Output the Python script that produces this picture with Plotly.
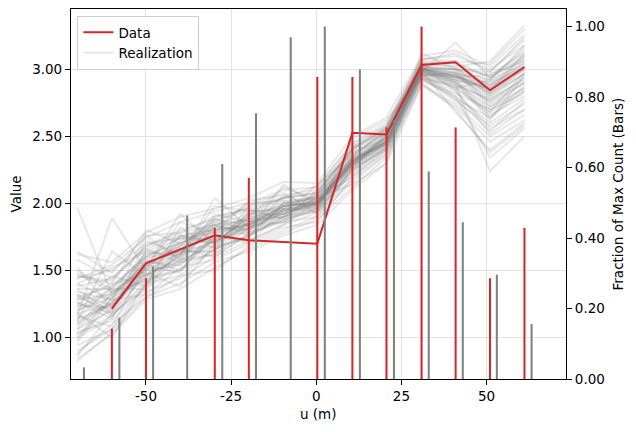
import plotly.graph_objects as go

# ---- data ----
u_grid = [-70.2, -60.0, -50.0, -40.0, -29.8, -19.8, -9.6, 0.3, 10.6, 20.6, 30.9, 40.9, 51.0, 61.1]
u_data = [-60.0, -50.0, -29.8, -19.8, 0.3, 10.6, 20.6, 30.9, 40.9, 51.0, 61.1]
data_values = [1.214, 1.552, 1.761, 1.724, 1.699, 2.527, 2.513, 3.032, 3.052, 2.843, 3.017]

realizations = [
    [1.20, 1.30, 1.56, 1.64, 1.77, 1.86, 1.95, 2.01, 2.31, 2.47, 3.00, 2.96, 2.82, 2.97],
    [1.02, 1.16, 1.42, 1.50, 1.66, 1.76, 1.88, 1.95, 2.22, 2.40, 2.95, 2.86, 2.68, 2.84],
    [1.38, 1.44, 1.68, 1.80, 1.88, 1.94, 2.04, 2.07, 2.40, 2.54, 3.06, 3.05, 2.94, 3.10],
    [0.90, 1.06, 1.34, 1.44, 1.60, 1.72, 1.84, 1.93, 2.18, 2.37, 2.92, 2.80, 2.60, 2.78],
    [1.50, 1.36, 1.62, 1.70, 1.80, 1.84, 1.98, 2.02, 2.34, 2.49, 3.02, 3.00, 2.88, 3.02],
    [1.10, 1.32, 1.50, 1.76, 1.70, 1.90, 1.92, 2.00, 2.28, 2.45, 2.98, 2.90, 2.72, 2.90],
    [1.26, 1.14, 1.66, 1.56, 1.86, 1.80, 2.06, 1.98, 2.33, 2.44, 3.01, 2.94, 2.96, 3.12],
    [0.84, 1.02, 1.28, 1.36, 1.52, 1.66, 1.78, 1.88, 2.12, 2.34, 2.89, 2.74, 2.50, 2.66],
    [1.44, 1.54, 1.74, 1.86, 1.94, 2.00, 2.10, 2.12, 2.44, 2.58, 3.08, 3.10, 3.00, 3.18],
    [1.14, 1.24, 1.44, 1.66, 1.68, 1.86, 1.90, 2.04, 2.29, 2.50, 2.99, 2.88, 2.78, 2.92],
    [1.30, 1.20, 1.58, 1.50, 1.74, 1.92, 1.98, 2.00, 2.32, 2.47, 3.00, 2.98, 2.72, 2.86],
    [0.98, 1.34, 1.52, 1.70, 1.82, 1.80, 1.96, 1.96, 2.26, 2.42, 2.96, 2.94, 2.90, 3.02],
    [1.64, 1.48, 1.76, 1.78, 1.90, 1.96, 2.04, 2.08, 2.42, 2.55, 3.05, 3.04, 2.94, 3.08],
    [1.18, 1.00, 1.40, 1.58, 1.62, 1.76, 1.90, 1.94, 2.24, 2.41, 2.94, 2.84, 2.56, 2.70],
    [1.06, 1.26, 1.48, 1.38, 1.70, 1.84, 1.98, 2.01, 2.30, 2.46, 2.99, 2.92, 2.86, 3.06],
    [1.46, 1.40, 1.80, 1.70, 1.84, 1.88, 2.00, 2.05, 2.38, 2.53, 3.04, 3.02, 2.80, 2.96],
    [0.88, 1.10, 1.30, 1.46, 1.50, 1.68, 1.80, 1.90, 2.16, 2.36, 2.90, 2.70, 2.38, 2.58],
    [1.28, 1.32, 1.54, 1.62, 1.92, 1.86, 1.92, 2.04, 2.35, 2.50, 3.01, 2.97, 2.92, 3.16],
    [1.12, 1.64, 1.46, 1.60, 1.72, 1.82, 1.96, 1.99, 2.29, 2.45, 2.98, 2.90, 2.76, 2.94],
    [1.40, 1.28, 1.64, 1.74, 1.78, 2.02, 2.06, 2.10, 2.41, 2.57, 3.07, 3.12, 2.98, 3.24],
    [1.00, 1.14, 1.50, 1.54, 1.74, 1.78, 1.86, 1.97, 2.27, 2.44, 2.96, 2.86, 2.66, 2.80],
    [1.22, 1.36, 1.36, 1.64, 1.64, 1.86, 1.94, 2.00, 2.32, 2.47, 3.00, 2.95, 2.82, 3.00],
    [1.58, 1.44, 1.66, 1.76, 1.80, 1.90, 2.12, 2.02, 2.31, 2.52, 3.00, 3.00, 2.96, 3.06],
    [0.94, 1.06, 1.40, 1.46, 1.66, 1.76, 1.90, 1.96, 2.25, 2.42, 2.96, 2.78, 2.54, 2.76],
    [1.32, 1.24, 1.52, 1.86, 1.78, 1.84, 1.98, 2.01, 2.33, 2.48, 3.01, 2.92, 2.86, 3.00],
    [1.14, 1.38, 1.60, 1.62, 1.98, 1.94, 1.96, 2.06, 2.36, 2.54, 3.02, 3.00, 2.74, 2.90],
    [1.26, 1.18, 1.46, 1.58, 1.68, 1.74, 2.00, 1.98, 2.28, 2.43, 2.97, 2.88, 2.24, 2.50],
    [1.44, 1.50, 1.70, 1.74, 1.86, 1.98, 2.04, 2.13, 2.45, 2.60, 3.08, 3.06, 3.04, 3.30],
    [1.06, 1.20, 1.54, 1.68, 1.74, 1.82, 1.92, 1.99, 2.31, 2.46, 2.99, 2.94, 2.80, 2.97],
    [1.20, 1.34, 1.42, 1.62, 1.82, 1.88, 1.96, 2.02, 2.32, 2.49, 3.00, 2.96, 2.84, 3.01],
    [1.97, 1.32, 1.56, 1.66, 1.76, 1.84, 1.94, 2.01, 2.30, 2.50, 3.00, 2.95, 2.78, 2.93],
    [1.16, 1.89, 1.50, 1.62, 1.72, 1.86, 1.98, 2.00, 2.31, 2.46, 2.99, 2.90, 2.70, 2.86],
    [1.34, 1.28, 1.76, 1.58, 1.88, 1.80, 2.14, 1.99, 2.29, 2.44, 2.98, 2.94, 2.88, 3.04],
    [1.24, 1.22, 1.52, 1.92, 1.70, 1.92, 1.92, 2.14, 2.36, 2.53, 3.03, 2.97, 2.90, 3.10],
    [1.10, 1.26, 1.46, 1.60, 2.04, 1.82, 1.90, 1.98, 2.29, 2.45, 2.98, 3.20, 2.94, 3.14],
    [1.36, 1.36, 1.58, 1.68, 1.78, 1.88, 2.00, 2.03, 2.34, 2.56, 3.02, 2.84, 2.52, 2.70],
    [1.04, 1.12, 1.38, 1.66, 1.60, 1.78, 1.88, 1.94, 2.48, 2.62, 2.94, 2.78, 2.64, 2.88],
    [1.30, 1.38, 1.60, 1.70, 1.82, 2.00, 2.02, 2.04, 2.14, 2.30, 3.12, 3.00, 2.92, 3.04],
    [1.18, 1.24, 1.48, 1.56, 1.72, 1.80, 1.94, 2.00, 2.31, 2.46, 2.99, 2.68, 2.40, 2.60],
    [1.46, 1.42, 1.68, 1.78, 1.84, 1.92, 2.04, 2.08, 2.40, 2.56, 3.04, 3.02, 3.06, 3.33],
    [0.82, 1.04, 1.30, 1.40, 1.56, 1.64, 1.76, 1.84, 2.10, 2.30, 2.88, 2.72, 2.46, 2.62],
    [1.62, 1.56, 1.78, 1.90, 1.96, 2.04, 2.16, 2.15, 2.50, 2.64, 3.10, 3.14, 3.02, 3.26],
    [1.08, 1.28, 1.32, 1.52, 1.58, 1.70, 1.82, 1.86, 2.20, 2.40, 2.92, 2.82, 2.70, 2.82],
    [1.36, 1.18, 1.72, 1.62, 1.90, 1.96, 1.88, 2.10, 2.38, 2.48, 3.02, 2.90, 2.62, 2.96],
    [1.24, 1.46, 1.38, 1.82, 1.66, 1.98, 2.08, 1.92, 2.26, 2.52, 2.96, 2.96, 2.84, 3.12],
    [0.96, 1.30, 1.44, 1.50, 1.76, 1.72, 1.84, 2.02, 2.20, 2.38, 2.94, 2.76, 2.58, 2.74],
    [1.52, 1.22, 1.60, 1.74, 1.70, 1.90, 2.02, 1.96, 2.42, 2.58, 3.04, 3.06, 2.82, 3.00],
    [1.16, 1.08, 1.54, 1.48, 1.84, 1.78, 1.98, 2.06, 2.34, 2.44, 2.98, 2.86, 2.92, 3.18],
    [1.40, 1.52, 1.64, 1.60, 1.80, 1.84, 1.92, 2.00, 2.28, 2.50, 3.00, 2.92, 2.64, 2.84],
    [0.86, 1.18, 1.36, 1.56, 1.62, 1.82, 1.86, 1.90, 2.24, 2.42, 2.95, 2.98, 2.88, 3.08],
    [1.28, 1.40, 1.46, 1.72, 1.84, 1.76, 2.00, 2.04, 2.30, 2.46, 2.97, 2.80, 2.34, 2.56],
    [1.12, 1.26, 1.62, 1.64, 1.64, 1.94, 1.94, 1.98, 2.36, 2.52, 3.01, 3.00, 2.98, 3.22],
    [1.48, 1.34, 1.50, 1.68, 1.88, 1.84, 1.86, 2.06, 2.32, 2.46, 2.99, 2.92, 2.76, 2.90],
    [1.02, 1.22, 1.56, 1.54, 1.76, 1.70, 1.96, 1.94, 2.26, 2.40, 2.93, 2.88, 2.68, 2.98],
    [1.32, 1.16, 1.40, 1.76, 1.72, 1.88, 1.90, 2.08, 2.40, 2.56, 3.03, 2.94, 2.86, 3.02],
]

# bar fractions (right axis)
data_bar_frac = [0.143, 0.286, 0.429, 0.571, 0.857, 0.857, 0.714, 1.0, 0.714, 0.286, 0.429]
real_bar_x = [-68.2, -57.8, -47.9, -37.9, -27.6, -17.7, -7.5, 2.5, 12.8, 22.8, 33.0, 43.0, 53.0, 63.2]
real_bar_frac = [0.033, 0.174, 0.319, 0.464, 0.610, 0.754, 0.970, 1.0, 0.878, 0.733, 0.589, 0.445, 0.296, 0.156]

y_ticks = [1.0, 1.5, 2.0, 2.5, 3.0]
x_ticks = [-50, -25, 0, 25, 50]
x_tick_labels = ["-50", "-25", "0", "25", "50"]
y2_ticks = [0.0, 0.2, 0.4, 0.6, 0.8, 1.0]

RED = "#d62728"
GRAY = "#808080"
REAL = "rgba(128,128,128,0.18)"
FONT = "DejaVu Sans"
FS = 13.5

fig = go.Figure()

for i, r in enumerate(realizations):
    fig.add_trace(go.Scatter(
        x=u_grid, y=r, mode="lines", line=dict(color=REAL, width=2),
        name="Realization", legendgroup="real", showlegend=(i == 0),
        hoverinfo="skip", yaxis="y"))

fig.add_trace(go.Scatter(
    x=u_data, y=data_values, mode="lines", line=dict(color=RED, width=2),
    name="Data", yaxis="y"))

fig.add_trace(go.Bar(x=real_bar_x, y=real_bar_frac, width=0.6, marker=dict(color=GRAY, line=dict(width=0)),
                     yaxis="y2", showlegend=False))
fig.add_trace(go.Bar(x=u_data, y=data_bar_frac, width=0.6, marker=dict(color=RED, line=dict(width=0)),
                     yaxis="y2", showlegend=False))

axis_common = dict(
    showline=True, linecolor="black", linewidth=1.2, ticks="outside", ticklen=5,
    tickwidth=1.2, tickcolor="black", zeroline=False, automargin=False,
    tickfont=dict(family=FONT, size=FS, color="black"),
)

# page body has an 8px margin, so the figure is 628x424 and offset by 8px
fig.update_layout(
    width=628, height=424,
    margin=dict(l=63, r=70, t=1, b=53, autoexpand=False),
    paper_bgcolor="white", plot_bgcolor="white",
    barmode="overlay",
    font=dict(family=FONT, size=FS, color="black"),
    xaxis=dict(range=[-72.0, 73.3], tickvals=x_ticks, ticktext=x_tick_labels, mirror=True,
               showgrid=True, gridcolor="#e3e3e3", gridwidth=1, **axis_common),
    yaxis=dict(range=[0.689, 3.45], tickvals=y_ticks, tickformat=".2f", mirror=True,
               showgrid=True, gridcolor="#e3e3e3", gridwidth=1, **axis_common),
    yaxis2=dict(range=[0, 1.05], tickvals=y2_ticks, tickformat=".2f", overlaying="y",
                side="right", showgrid=False, **axis_common),
    legend=dict(x=0.013, y=0.981, xanchor="left", yanchor="top",
                bgcolor="rgba(255,255,255,0.8)", bordercolor="#cccccc", borderwidth=1,
                font=dict(family=FONT, size=FS), traceorder="reversed",
                itemwidth=30, tracegroupgap=0),
    showlegend=True,
    annotations=[
        dict(text="u (m)", xref="paper", yref="paper", x=0.5, y=-0.095,
             xanchor="center", yanchor="middle", showarrow=False,
             font=dict(family=FONT, size=FS, color="black")),
        dict(text="Value", xref="paper", yref="paper", x=-0.112, y=0.5,
             xanchor="center", yanchor="middle", textangle=-90, showarrow=False,
             font=dict(family=FONT, size=FS, color="black")),
        dict(text="Fraction of Max Count (Bars)", xref="paper", yref="paper", x=1.106, y=0.5,
             xanchor="center", yanchor="middle", textangle=-90, showarrow=False,
             font=dict(family=FONT, size=FS, color="black")),
    ],
)

fig.write_html("out.html")
